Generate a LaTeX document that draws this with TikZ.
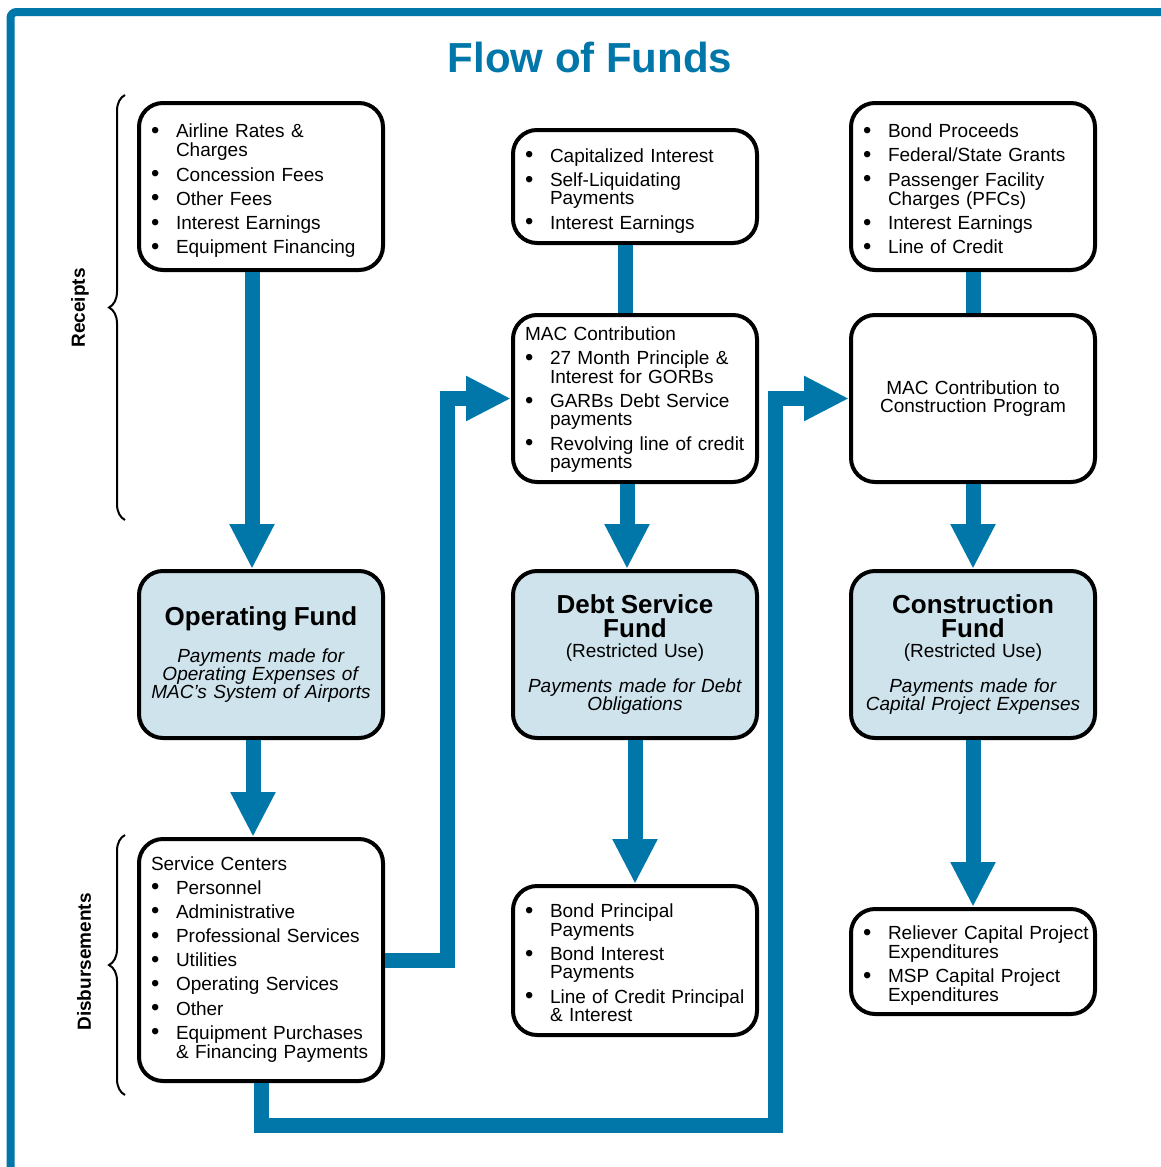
\documentclass[tikz,border=0pt]{standalone}
\usepackage{fontspec}
\setmainfont{Liberation Sans}
\usepackage{graphicx}
\usetikzlibrary{arrows.meta,%
		decorations.pathreplacing,%
		positioning}
\definecolor{macblue}{RGB}{0,119,168}
\definecolor{fundfill}{RGB}{206,227,236}
\newcommand{\bul}{\raisebox{-0.3pt}{\scalebox{1.25}{\textbullet}}}
\newenvironment{blist}{\begin{tabular}{@{}p{12.5pt}@{}l@{}}}{\end{tabular}}
\newcommand{\fundtitle}{\fontsize{13}{12}\selectfont\bfseries}

\begin{document}
\begin{tikzpicture}[x=0.5pt,y=-0.5pt,font=\fontsize{9.5}{9}\selectfont,
  listbox/.style={draw,line width=2pt,rounded corners=12pt,fill=white,
    text width=110pt,inner xsep=6pt,align=left,minimum height=83.5pt},
  fundbox/.style={listbox,fill=fundfill,align=center},
  flow/.style={draw=macblue,line width=7.5pt,-{Triangle[width=21pt,length=22.5pt]}},
  link/.style={draw=macblue,line width=7.5pt},
  curly/.style={decorate,decoration={brace,amplitude=8pt},line width=1pt}]
  \useasboundingbox (0,0) rectangle (1161,1167);
  \clip (0,0) rectangle (1161,1167);
  \draw[macblue,line width=4pt,rounded corners=3pt] (10.5,12) rectangle (1300,1300);

  \node[font=\fontsize{21}{25}\selectfont\bfseries,text=macblue] (title) at (590,57) {Flow of Funds};

  % receipts
  \node[listbox] (rec) at (261,186.5) {\begin{blist}\noalign{\vspace{5pt}}
    \bul & Airline Rates \&\\ & Charges\\[2.5pt]
    \bul & Concession Fees\\[2.5pt]
    \bul & Other Fees\\[2.5pt]
    \bul & Interest Earnings\\[2.5pt]
    \bul & Equipment Financing
  \end{blist}};
  \node[listbox,minimum height=56.5pt] (cap) at (635,186.5) {\begin{blist}\noalign{\vspace{5pt}}
    \bul & Capitalized Interest\\[2.5pt]
    \bul & Self-Liquidating\\ & Payments\\[2.5pt]
    \bul & Interest Earnings
  \end{blist}};
  \node[listbox] (bnd) at (973,186.5) {\begin{blist}\noalign{\vspace{5pt}}
    \bul & Bond Proceeds\\[2.5pt]
    \bul & Federal/State Grants\\[2.5pt]
    \bul & Passenger Facility\\ & Charges (PFCs)\\[2.5pt]
    \bul & Interest Earnings\\[2.5pt]
    \bul & Line of Credit
  \end{blist}};
  \node[listbox] (mac) at (635,398.5) {\begin{blist}\noalign{\vspace{1.5pt}}
    \multicolumn{2}{@{}l@{}}{MAC Contribution}\\[2.5pt]
    \bul & 27 Month Principle \&\\ & Interest for GORBs\\[2.5pt]
    \bul & GARBs Debt Service\\ & payments\\[2.5pt]
    \bul & Revolving line of credit\\ & payments
  \end{blist}};
  \node[listbox,align=center] (mcc) at (973,398.5) {MAC Contribution to\\Construction Program};

  % funds
  \node[fundbox] (opf) at (261,654.5) {{\fundtitle Operating Fund}\\[8pt]
    \textit{Payments made for}\\\textit{Operating Expenses of}\\\textit{MAC's System of Airports}};
  \node[fundbox] (dsf) at (635,654.5) {{\fundtitle Debt Service}\\[1.5pt]{\fundtitle Fund}\\[1pt]
    (Restricted Use)\\[8.5pt]
    \textit{Payments made for Debt}\\\textit{Obligations}};
  \node[fundbox] (cnf) at (973,654.5) {{\fundtitle Construction}\\[1.5pt]{\fundtitle Fund}\\[1pt]
    (Restricted Use)\\[8.5pt]
    \textit{Payments made for}\\\textit{Capital Project Expenses}};

  % disbursements
  \node[listbox,minimum height=121pt] (svc) at (261,960) {\begin{blist}
    \multicolumn{2}{@{}l@{}}{Service Centers}\\[2.5pt]
    \bul & Personnel\\[2.5pt]
    \bul & Administrative\\[2.5pt]
    \bul & Professional Services\\[2.5pt]
    \bul & Utilities\\[2.5pt]
    \bul & Operating Services\\[2.5pt]
    \bul & Other\\[2.5pt]
    \bul & Equipment Purchases\\ & \& Financing Payments
  \end{blist}};
  \node[listbox,minimum height=74.5pt] (bpp) at (635,960.5) {\begin{blist}\noalign{\vspace{5pt}}
    \bul & Bond Principal\\ & Payments\\[2.5pt]
    \bul & Bond Interest\\ & Payments\\[2.5pt]
    \bul & Line of Credit Principal\\ & \& Interest
  \end{blist}};
  \node[listbox,minimum height=52.5pt] (rcp) at (973,961.5) {\begin{blist}\noalign{\vspace{5pt}}
    \bul & Reliever Capital Project\\ & Expenditures\\[2.5pt]
    \bul & MSP Capital Project\\ & Expenditures
  \end{blist}};

  % braces
  \draw[curly] (125,520) -- (125,95);
  \draw[curly] (125,1095) -- (125,835);
  \node[rotate=90,font=\fontsize{9.5}{9}\selectfont\bfseries] (rcpt) at (80,308) {Receipts};
  \node[rotate=90,font=\fontsize{9.5}{9}\selectfont\bfseries] (dsb) at (84,962) {Disbursements};

  % flows
  \draw[flow] ([xshift=-4.5pt]rec.south) -- ([xshift=-4.5pt]opf.north);
  \draw[flow] ([xshift=-4pt]opf.south) -- ([xshift=-4pt]svc.north);
  \draw[link] ([xshift=-5pt]cap.south) -- ([xshift=-5pt]mac.north);
  \draw[flow] ([xshift=-4pt]mac.south) -- ([xshift=-4pt]dsf.north);
  \draw[flow] (dsf.south) -- (bpp.north);
  \draw[link] (bnd.south) -- (mcc.north);
  \draw[flow] (mcc.south) -- (cnf.north);
  \draw[flow] (cnf.south) -- (rcp.north);

  \coordinate (bend1) at (447,398.5);
  \coordinate (bend2) at (775,1125);
  \draw[flow] (svc.east) -| (bend1) -- (mac.west);
  \draw[flow] (svc.south) |- (bend2) |- (mcc.west);
\end{tikzpicture}
\end{document}
